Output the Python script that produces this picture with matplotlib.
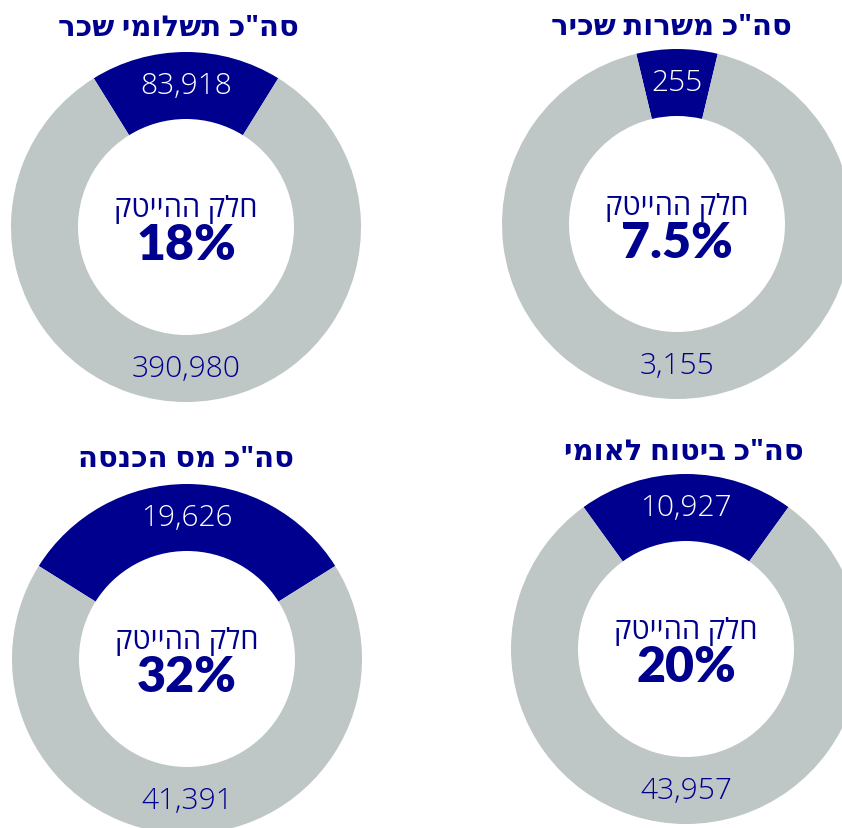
import matplotlib.pyplot as plt

# נתונים
titles = ['סה"כ תשלומי שכר', 'סה"כ משרות שכיר', 'סה"כ מס הכנסה', 'סה"כ ביטוח לאומי']
hitech = [83918, 255, 19626, 10927]
other = [390980, 3155, 41391, 43957]
pct_labels = ['18%', '7.5%', '32%', '20%']
center_label = 'חלק ההייטק'

# מיקומים בפיקסלים (x, y מלמעלה)
centers = [(186, 228), (677, 225), (187, 660), (686, 650)]
title_pos = [(178, 28), (671, 27), (186, 460), (684, 453)]
R = 175
W = 67

navy = '#00008f'
grey = '#bec6c6'
H = 829

def heb(s):
    # matplotlib לא הופך טקסט מימין לשמאל
    return s[::-1]

fig = plt.figure(figsize=(8.42, 8.29), dpi=100)
ax = fig.add_axes([0, 0, 1, 1])

for i in range(4):
    cx, cy = centers[i]
    cy = H - cy
    tot = hitech[i] + other[i]
    f = hitech[i] / tot
    ax.pie([hitech[i], other[i]], colors=[navy, grey], center=(cx, cy), radius=R,
           startangle=90 - f * 180, counterclock=True,
           wedgeprops=dict(width=W, linewidth=0))
    mid = R - W / 2
    ax.text(cx, cy + mid, f'{hitech[i]:,}', color='white', fontsize=21.5, ha='center', va='center',
            family=['Open Sans', 'DejaVu Sans'], weight='light')
    ax.text(cx, cy - mid, f'{other[i]:,}', color=navy, fontsize=21.5, ha='center', va='center',
            family=['Open Sans', 'DejaVu Sans'], weight='light')
    ax.text(cx, cy + 18, heb(center_label), color=navy, fontsize=21, ha='center', va='center',
            family=['Open Sans', 'DejaVu Sans'])
    ax.text(cx, cy - 18, pct_labels[i], color=navy, fontsize=36, ha='center', va='center',
            family=['Lato', 'DejaVu Sans'], weight='heavy')
    tx, ty = title_pos[i]
    ax.text(tx, H - ty, heb(titles[i]), color=navy, fontsize=21, ha='center', va='center',
            family=['Open Sans', 'DejaVu Sans'], weight='bold')

ax.set_xlim(0, 842)
ax.set_ylim(0, H)
ax.set_aspect('equal')
ax.axis('off')

fig.savefig('out.png', dpi=100)
